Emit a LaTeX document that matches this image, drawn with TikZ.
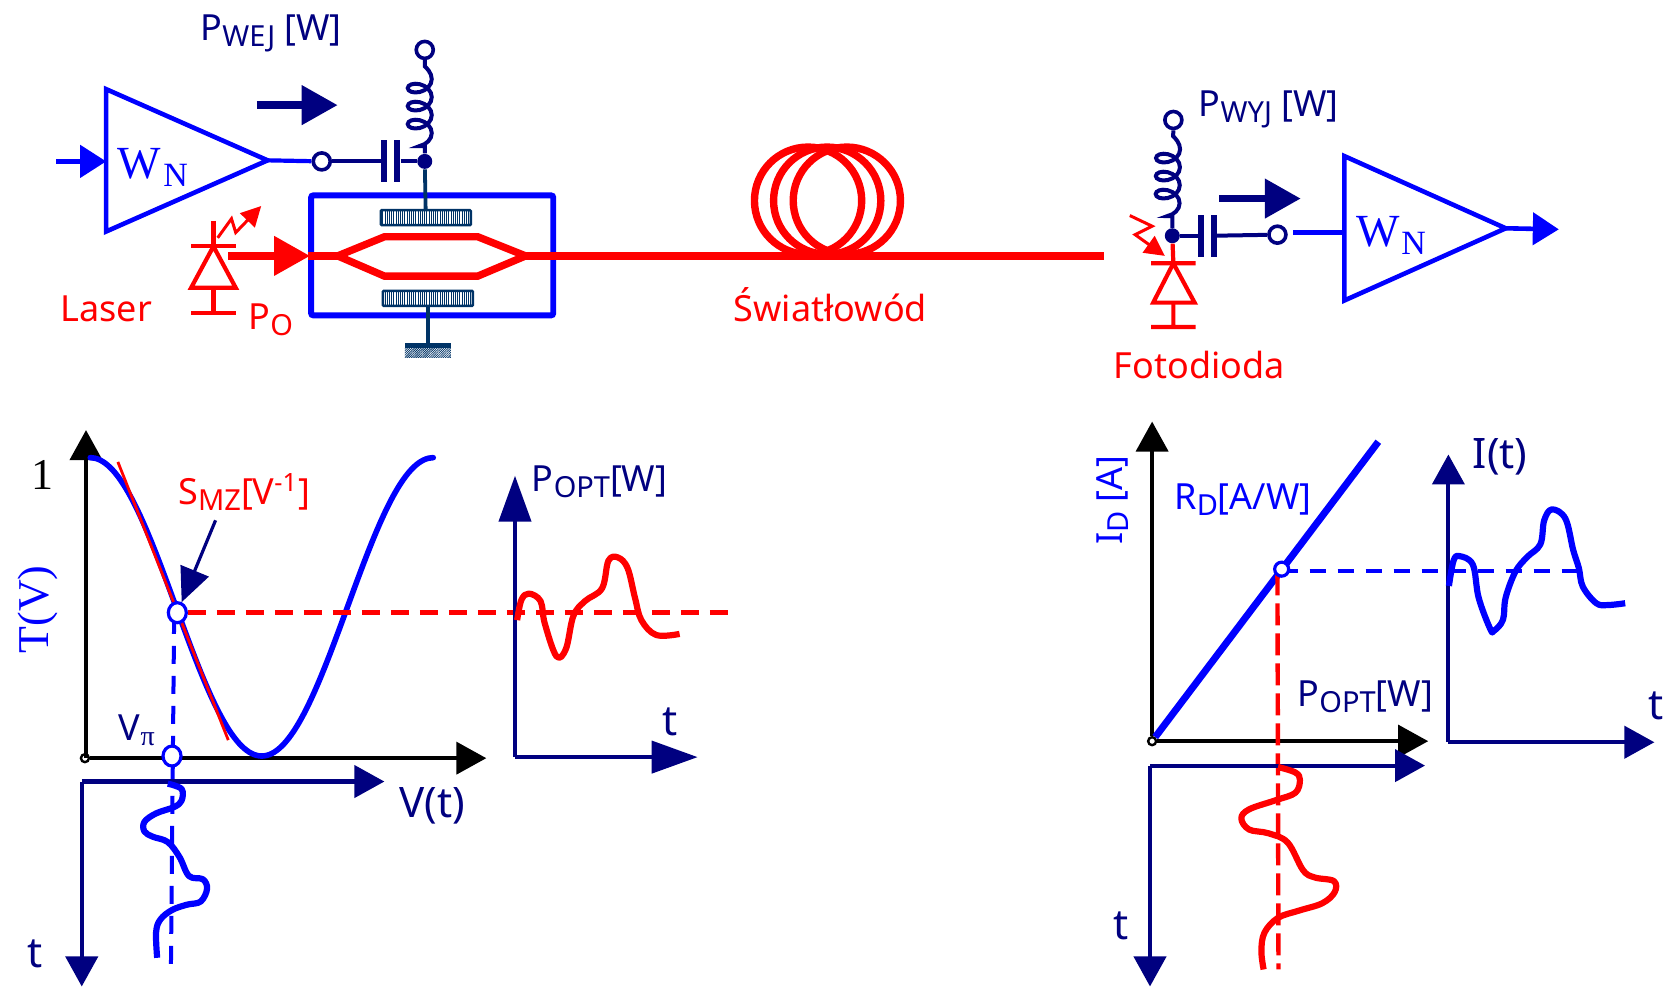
\documentclass[tikz,border=0pt]{standalone}
\usepackage{fontspec}
\setmainfont{Noto Sans}
\newfontfamily\serifnum{Liberation Serif}
\usetikzlibrary{arrows.meta,decorations.pathmorphing,patterns.meta,shapes.geometric}
\definecolor{ciemny}{RGB}{0,0,128}
\definecolor{morski}{RGB}{0,51,102}
\newcommand{\dol}[1]{\raisebox{-0.32ex}{\fontsize{14.5}{14.5}\selectfont #1}}
\newcommand{\wn}{\fontsize{23}{23}\selectfont W\hspace{1pt}\raisebox{-4pt}{\fontsize{17}{17}\selectfont N}}
\begin{document}
\begin{tikzpicture}[x=0.5309pt,y=-0.5309pt,
opis/.style={inner sep=0pt,outer sep=0pt,font=\fontsize{18}{20}\selectfont},
duzy/.style={inner sep=0pt,outer sep=0pt,font=\fontsize{21}{22}\selectfont},
szeryf/.style={inner sep=0pt,outer sep=0pt,font=\serifnum\fontsize{22}{24}\selectfont},
wzm/.style={draw=blue,line width=2.3pt,line join=miter},
wezel/.style={circle,draw=ciemny,fill=white,line width=1.8pt,minimum size=8.5pt,inner sep=0pt},
kropka/.style={circle,fill=ciemny,minimum size=7.5pt,inner sep=0pt},
pkt/.style={ellipse,draw=blue,fill=white,line width=1.6pt,minimum width=9pt,minimum height=10pt,inner sep=0pt},
gora/.style={circle,draw=black,fill=white,line width=1.2pt,minimum size=4pt,inner sep=0pt},
cewka/.style={draw=ciemny,line width=2pt,decorate,decoration={coil,aspect=0.7,amplitude=6pt,segment length=9pt,pre length=3pt,post length=2pt,raise=-2.5pt}},
plytka/.style={fill=ciemny,minimum width=3pt,minimum height=21pt,inner sep=0pt},
elektroda/.style={draw=morski,line width=1.3pt,rounded corners=0.5pt,pattern={Lines[angle=90,distance=1.1pt,line width=0.35pt]},pattern color=morski},
czerw/.style={draw=red,line width=2.1pt},
gruby/.style={draw=red,line width=3.7pt},
sygnal/.style={line width=3.1pt,line join=round},
osc/.style={draw=black,line width=2pt,-{Triangle[length=15pt,width=16pt]}},
osn/.style={draw=ciemny,line width=2.1pt,-{Triangle[length=15pt,width=16pt]}},
grot/.style={draw=ciemny,line width=3.8pt,-{Triangle[length=18pt,width=19pt]}},
wej/.style={draw=blue,line width=2.3pt,-{Triangle[length=13pt,width=16pt]}}]
\useasboundingbox (0,0) rectangle (1568,929);

\node[opis,text=ciemny,anchor=base west] (PWEJ) at (189,38) {P\dol{WEJ} [W]};
\draw[grot] (242,99)--(318,99);

\draw[wzm] (100,84)--(252,151)--(100,218)--cycle;
\coordinate (W1we) at (100,152);
\coordinate (W1wy) at (252,151);
\coordinate (WEJ) at (53,152);
\draw[wej] (WEJ)--(W1we);
\node[szeryf,text=blue,anchor=base west] (WN1) at (111,168) {\wn};
\node[wezel] (K1) at (303,152) {};
\node[kropka] (D1) at (400,152) {};
\node[wezel] (L1) at (400,47) {};
\node[plytka] (C1a) at (362,152) {};
\node[plytka] (C1b) at (374,152) {};
\draw[blue,line width=2.1pt] (W1wy)--(K1);
\draw[ciemny,line width=2pt] (K1)--(C1a);
\draw[ciemny,line width=2pt] (C1b)--(D1);
\draw[cewka] (L1)--(D1);

\draw[blue,line width=2.9pt,rounded corners=1pt] (293,184) rectangle (521,297);
\node[elektroda,minimum width=45pt,minimum height=7.5pt,inner sep=0pt] (E1) at (401,205) {};
\node[elektroda,minimum width=45pt,minimum height=7.5pt,inner sep=0pt] (E2) at (403,281) {};
\draw[morski,line width=1.9pt] (D1)--(E1);
\coordinate (Z1) at (403,323);
\draw[morski,line width=1.9pt] (E2)--(Z1);
\node[fill=morski,minimum width=23pt,minimum height=2.2pt,inner sep=0pt,anchor=north] (Z2) at (Z1) {};
\node[pattern={Lines[angle=45,distance=0.8pt,line width=0.4pt]},pattern color=morski,minimum width=23pt,minimum height=4.5pt,inner sep=0pt,anchor=north] (Z3) at (Z2.south) {};

\coordinate (MZa) at (318,241);
\coordinate (MZb) at (495,241);
\coordinate (LAS) at (215,241);
\coordinate (FIB) at (1040,241);
\draw[gruby,-{Triangle[length=18pt,width=19pt]}] (LAS)--(292,241);
\draw[gruby] (290,241)--(MZa) (MZb)--(FIB);
\draw[gruby,line join=miter] (MZa)--(362,223)--(450,223)--(MZb)--(450,260)--(362,260)--cycle;
\draw[gruby] (761,189) circle (50.5);
\draw[gruby] (779,189) circle (50.5);
\draw[gruby] (797.5,189) circle (50.5);

\coordinate (LA) at (201,232);
\draw[czerw,line join=miter] (LA)--(222,271)--(180,271)--cycle;
\draw[czerw] (201,208)--(LA) (180,232)--(222,232) (201,271)--(201,295) (180,295)--(222,295);
\draw[red,line width=1.5pt,-{Triangle[length=10pt,width=10pt]}] (205,224)--(218,206)--(222,219)--(246,194);
\node[opis,text=red,anchor=base west] (LASER) at (57,303) {Laser};
\node[opis,text=red,anchor=base west] (PO) at (234,310) {P\dol{O}};
\node[opis,text=red,anchor=base] (SW) at (782,303) {Światłowód};

\node[opis,text=ciemny,anchor=base west] (PWYJ) at (1129,110) {P\dol{WYJ} [W]};
\node[wezel] (L2) at (1105,113) {};
\node[kropka] (D2) at (1104,222) {};
\node[wezel] (K2) at (1203,221) {};
\node[plytka] (C2a) at (1131,222) {};
\node[plytka] (C2b) at (1143,222) {};
\draw[cewka] (L2)--(D2);
\draw[ciemny,line width=2pt] (D2)--(C2a);
\draw[ciemny,line width=2pt] (C2b)--(K2);
\draw[grot] (1148,187)--(1225,187);
\draw[wzm] (1266,147)--(1418,215)--(1266,283)--cycle;
\coordinate (W2we) at (1266,219);
\coordinate (W2wy) at (1418,215);
\coordinate (WYJ) at (1468,216);
\coordinate (K2b) at (1218,219);
\draw[blue,line width=2.3pt] (K2b)--(W2we);
\draw[wej] (W2wy)--(WYJ);
\node[szeryf,text=blue,anchor=base west] (WN2) at (1277,232) {\wn};
\coordinate (FD) at (1105,248);
\draw[czerw] (D2)--(FD) (1084,248)--(1126,248) (1105,285)--(1105,308) (1084,308)--(1126,308);
\draw[czerw,line join=miter] (FD)--(1125,285)--(1086,285)--cycle;
\draw[red,line width=1.5pt,-{Triangle[length=10pt,width=10pt]}] (1064,203)--(1085,213)--(1069,221)--(1097,241);
\node[opis,text=red,anchor=base west] (FOTO) at (1049,356) {Fotodioda};

\node[gora] (O1) at (80,714) {};
\coordinate (O1y) at (81,405);
\coordinate (O1x) at (458,714);
\draw[osc] (O1)--(O1x);
\draw[osc] (81,714)--(O1y);
\draw[blue,line width=2.8pt,line cap=round] plot[domain=85:408,samples=70,smooth] (\x,{571.5-140.5*cos((\x-85)/161.5*180)});
\draw[red,line width=1.4pt] (111,435)--(215,697);
\coordinate (K3) at (161,908);
\coordinate (K4) at (688,577);
\coordinate (K7) at (164,580);
\draw[blue,line width=2pt,dash pattern=on 9pt off 6pt] (K7)--(K3);
\node[pkt] (P1) at (167,577) {};
\node[pkt] (P2) at (162,712) {};
\draw[red,line width=2.3pt,dash pattern=on 9pt off 5.5pt] (P1)--(K4);
\node[opis,text=red,anchor=base west] (SMZ) at (168,475) {S\dol{MZ}[V\textsuperscript{-1}]};
\draw[ciemny,line width=1.6pt,-{Triangle[length=17pt,width=15pt]}] (203,490)--(P1);
\node[szeryf,anchor=base] (JEDEN) at (40,461) {1};
\node[szeryf,text=blue,anchor=base,rotate=90] (TV) at (46,574) {T(V)};
\node[opis,text=ciemny,anchor=base west] (VPI) at (112,697) {V\raisebox{-0.3ex}{\serifnum\fontsize{14}{14}\selectfont π}};

\coordinate (O2) at (77,736);
\coordinate (O2x) at (362,736);
\coordinate (O2y) at (77,929);
\draw[osn] (O2)--(O2x);
\draw[osn] (O2)--(O2y);
\node[duzy,text=ciemny,anchor=base west] (VT) at (376,770) {V(t)};
\node[duzy,text=ciemny,anchor=base] (T1) at (33,911) {t};
\draw[blue,sygnal] plot[smooth,tension=0.6] coordinates {(158,738)(171,743)(171,754)(164,760)(147,766)(136,774)(136,783)(144,788)(158,793)(169,807)(178,825)(191,828)(195,837)(189,849)(176,852)(162,857)(151,866)(147,878)(148,902)};

\coordinate (O3) at (485,713);
\coordinate (O3x) at (657,713);
\coordinate (O3y) at (485,448);
\draw[draw=ciemny,line width=2.1pt,-{Triangle[length=23pt,width=16pt]}] (O3)--(O3x);
\draw[draw=ciemny,line width=2.1pt,-{Triangle[length=23pt,width=16pt]}] (O3)--(O3y);
\node[opis,text=ciemny,anchor=base west] (POPT1) at (501,463) {P\dol{OPT}[W]};
\node[duzy,text=ciemny,anchor=base] (T2) at (631,693) {t};
\draw[red,sygnal] plot[smooth,tension=0.6] coordinates {(487,584)(491,565)(498,559)(509,566)(513,587)(524,618)(533,611)(540,580)(551,566)(567,554)(573,528)(582,525)(591,535)(598,563)(604,584)(618,598)(640,597)};

\node[gora] (O4) at (1085,698) {};
\coordinate (O4y) at (1085,397);
\coordinate (O4x) at (1345,698);
\coordinate (RD) at (1298,416);
\draw[osc] (O4)--(O4x);
\draw[osc] (O4)--(O4y);
\draw[blue,line width=3.5pt] (O4)--(RD);
\coordinate (K5) at (1485,538);
\coordinate (K6) at (1204,913);
\coordinate (K8) at (1203,540);
\coordinate (K9) at (1207,538);
\draw[blue,line width=2pt,dash pattern=on 8pt off 6pt] (K9)--(K5);
\draw[red,line width=2.2pt,dash pattern=on 11pt off 4pt] (K8)--(K6);
\node[pkt,minimum width=7pt,minimum height=7pt] (P3) at (1207,536) {};
\node[opis,text=blue,anchor=base,rotate=90] (ID) at (1057,471) {I\dol{D} [A]};
\node[opis,text=blue,anchor=base west] (RDA) at (1106,480) {R\dol{D}[A/W]};
\node[opis,text=ciemny,anchor=base west] (POPT2) at (1222,665) {P\dol{OPT}[W]};

\coordinate (O5) at (1083,721);
\coordinate (O5x) at (1342,721);
\coordinate (O5y) at (1083,929);
\draw[osn] (O5)--(O5x);
\draw[osn] (O5)--(O5y);
\node[duzy,text=ciemny,anchor=base] (T3) at (1056,885) {t};
\draw[red,sygnal] plot[smooth,tension=0.6] coordinates {(1203.5,722.3)(1219.9,727.5)(1224.2,734.5)(1219.9,746.6)(1201.7,753.5)(1176.3,762.2)(1169,770.8)(1176.3,781.2)(1194.4,784.7)(1212.6,793.4)(1227.1,819.4)(1238,826.3)(1256.2,829.8)(1256.9,840.2)(1245.3,850.6)(1223.5,857.5)(1203.5,864.4)(1190.8,878.3)(1187.9,895.6)(1190,913)};

\coordinate (O6) at (1364,699);
\coordinate (O6x) at (1558,699);
\coordinate (O6y) at (1364,428);
\draw[osn] (O6)--(O6x);
\draw[osn] (O6)--(O6y);
\node[duzy,text=ciemny,anchor=base west] (IT) at (1387,441) {I(t)};
\node[duzy,text=ciemny,anchor=base] (T4) at (1560,678) {t};
\draw[blue,sygnal] plot[smooth,tension=0.6] coordinates {(1364.5,551.8)(1368.8,528.2)(1374.3,523.7)(1387,531.7)(1392.5,562.9)(1403.4,592.3)(1407,594)(1415.4,583.7)(1417.9,562.9)(1427,538.6)(1437.9,524.8)(1450.6,512.6)(1454.2,490.1)(1461.5,479.7)(1474.2,488.4)(1481.5,517.8)(1486.9,535.1)(1490.6,552.5)(1503.3,568.1)(1514.2,569.8)(1530.5,568.1)};
\end{tikzpicture}
\end{document}
